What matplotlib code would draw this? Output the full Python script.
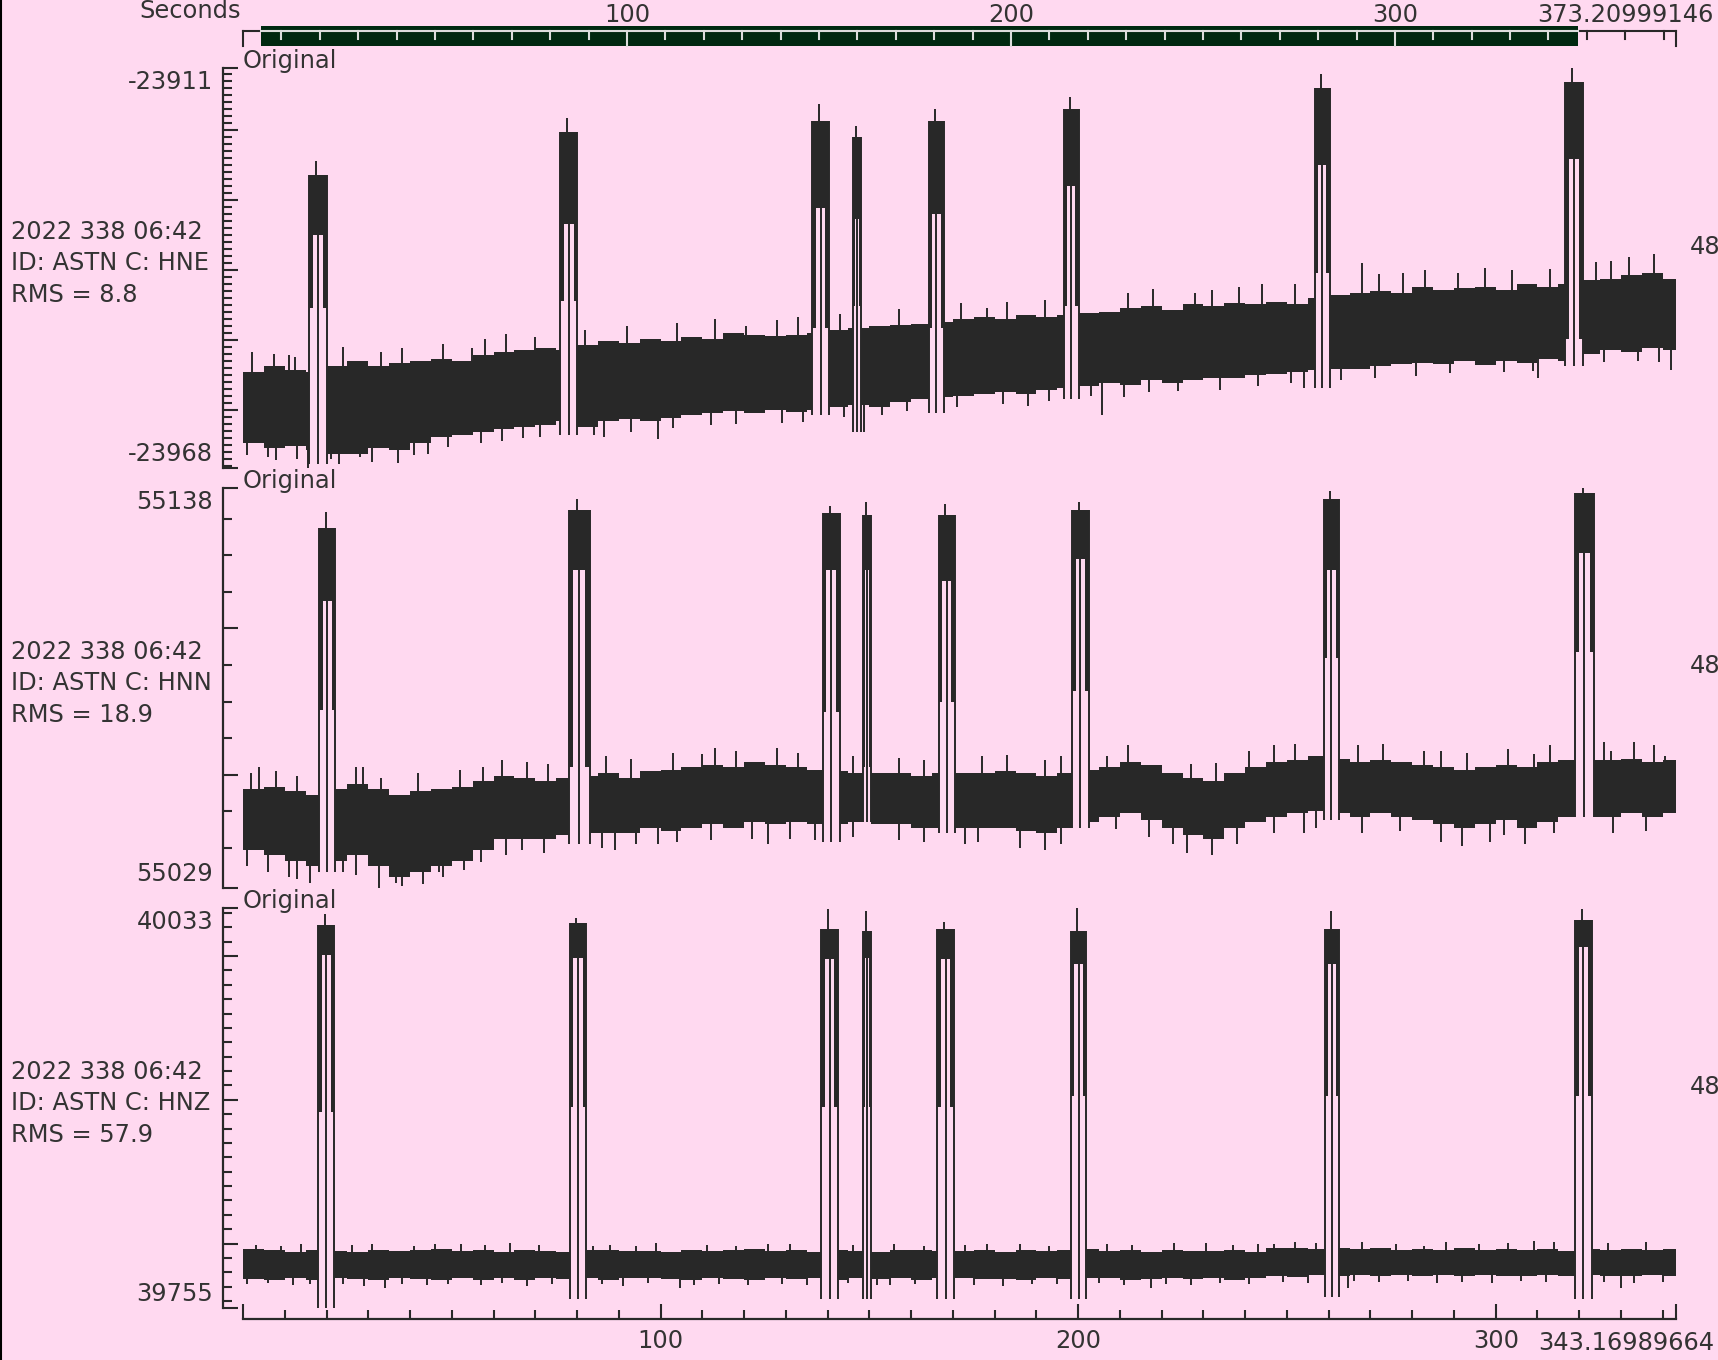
import numpy as np
import matplotlib
matplotlib.use('Agg')
import matplotlib.pyplot as plt
from matplotlib.lines import Line2D

W, H = 1718, 1360
BG = '#ffd9f0'
INK = '#282828'
TXT = '#333333'
GREEN = '#002810'
LIGHT = '#dcdcdc'
FS = 17.4

# record / window lengths (s)
t_end = 343.16989664
rec_len = 373.20999146
win_start = 4.6

# header info
date_str = '2022 338 06:42'
station = 'ASTN'
channels = ['HNE', 'HNN', 'HNZ']
rms = [8.8, 18.9, 57.9]
right_lbl = '48'

# noise band envelope, one value every 5 s (0..340 s)
env_t = np.arange(0, 345, 5)

ne_hi = [-23954.6, -23953.8, -23954.3, -23954.6, -23953.8, -23953.0, -23953.8, -23953.3, -23953.0, -23952.7,
         -23953.0, -23952.2, -23951.8, -23951.5, -23951.1, -23951.5, -23950.7, -23950.2, -23950.5, -23949.9,
         -23950.2, -23949.6, -23949.9, -23949.1, -23949.3, -23949.4, -23949.3, -23949.1, -23948.6, -23948.3,
         -23948.0, -23947.9, -23947.7, -23947.4, -23947.1, -23946.8, -23947.1, -23946.5, -23946.8, -23946.5,
         -23946.2, -23946.0, -23945.5, -23945.2, -23945.7, -23944.9, -23945.2, -23944.7, -23944.9, -23944.6,
         -23944.9, -23944.0, -23943.6, -23943.3, -23943.0, -23943.3, -23942.4, -23942.9, -23942.6, -23942.4,
         -23942.9, -23942.1, -23942.4, -23942.1, -23941.5, -23941.3, -23940.8, -23940.5, -23941.3]
ne_lo = [-23964.7, -23965.5, -23965.2, -23965.8, -23966.3, -23966.3, -23965.5, -23965.8, -23964.7, -23963.9,
         -23963.6, -23963.2, -23962.7, -23962.4, -23962.1, -23961.6, -23962.4, -23961.6, -23961.3, -23961.6,
         -23961.1, -23960.8, -23960.5, -23960.2, -23960.5, -23960.0, -23960.3, -23960.0, -23959.6, -23959.3,
         -23959.6, -23958.9, -23958.5, -23958.2, -23958.0, -23957.7, -23957.4, -23957.7, -23957.2, -23956.9,
         -23956.6, -23956.1, -23956.4, -23955.8, -23956.1, -23955.7, -23955.4, -23955.5, -23955.0, -23954.9,
         -23954.6, -23954.3, -23954.2, -23954.1, -23953.8, -23953.5, -23953.3, -23953.5, -23953.0, -23953.6,
         -23953.0, -23953.3, -23952.7, -23953.0, -23952.0, -23951.5, -23951.8, -23951.1, -23951.5]

nn_hi = [55056.0, 55056.6, 55055.4, 55054.5, 55056.0, 55057.5, 55056.0, 55054.5, 55055.4, 55056.0,
         55056.6, 55058.4, 55059.6, 55059.0, 55058.4, 55059.0, 55059.6, 55060.5, 55059.0, 55061.1,
         55061.4, 55062.0, 55062.6, 55062.0, 55063.5, 55062.6, 55062.0, 55061.4, 55061.1, 55060.5,
         55060.5, 55060.5, 55059.6, 55060.5, 55060.5, 55060.5, 55061.1, 55060.5, 55059.6, 55060.5,
         55061.4, 55062.0, 55063.5, 55062.6, 55060.5, 55059.0, 55058.4, 55060.5, 55062.0, 55063.5,
         55064.1, 55065.0, 55064.4, 55063.5, 55064.1, 55063.5, 55062.6, 55062.0, 55061.4, 55062.0,
         55062.6, 55062.0, 55063.5, 55064.1, 55064.1, 55064.1, 55064.4, 55063.5, 55064.1]
nn_lo = [55039.5, 55038.0, 55036.5, 55035.0, 55036.5, 55038.0, 55035.0, 55032.0, 55033.5, 55035.0,
         55036.5, 55039.5, 55042.5, 55042.5, 55042.5, 55043.4, 55044.0, 55044.0, 55044.0, 55045.5,
         55044.6, 55045.5, 55046.4, 55045.5, 55047.0, 55046.4, 55047.0, 55046.4, 55046.4, 55047.0,
         55046.4, 55046.4, 55045.5, 55045.5, 55045.5, 55045.5, 55045.5, 55044.6, 55044.0, 55045.5,
         55047.0, 55048.5, 55049.4, 55047.6, 55045.5, 55043.4, 55042.5, 55045.5, 55047.0, 55048.5,
         55049.4, 55050.0, 55049.4, 55048.5, 55049.4, 55048.5, 55047.6, 55046.4, 55045.5, 55046.4,
         55047.6, 55045.5, 55047.0, 55048.5, 55048.5, 55048.5, 55049.4, 55048.5, 55049.4]

nz_hi = [39796.0, 39795.2, 39794.4, 39795.6, 39795.0, 39794.2, 39795.8, 39794.6, 39795.2, 39796.2,
         39794.8, 39795.4, 39794.0, 39795.6, 39795.0, 39794.4, 39795.2, 39795.8, 39794.6, 39795.0,
         39794.2, 39795.6, 39794.8, 39795.4, 39796.0, 39794.6, 39795.2, 39794.0, 39795.6, 39795.0,
         39794.4, 39795.8, 39795.2, 39794.6, 39795.0, 39795.6, 39794.2, 39795.2, 39794.8, 39795.4,
         39796.0, 39794.6, 39795.2, 39794.4, 39795.8, 39795.0, 39794.6, 39795.4, 39794.2, 39796.6,
         39797.0, 39796.4, 39797.2, 39796.0, 39796.8, 39795.6, 39796.4, 39795.8, 39796.6, 39795.2,
         39796.0, 39795.6, 39796.2, 39795.0, 39796.4, 39795.6, 39796.0, 39795.4, 39796.2]
nz_lo = [39775.6, 39774.8, 39776.2, 39775.0, 39776.4, 39775.2, 39774.6, 39776.0, 39775.4, 39774.8,
         39776.2, 39775.0, 39775.8, 39774.6, 39776.0, 39775.4, 39776.4, 39775.0, 39775.8, 39776.2,
         39775.2, 39774.8, 39776.0, 39775.6, 39775.0, 39776.4, 39775.2, 39775.8, 39774.6, 39776.0,
         39775.4, 39776.2, 39775.0, 39775.8, 39776.4, 39775.2, 39775.6, 39774.8, 39776.0, 39775.4,
         39775.8, 39776.2, 39775.0, 39775.6, 39776.4, 39775.2, 39775.8, 39775.0, 39776.2, 39777.6,
         39777.0, 39778.2, 39777.6, 39778.0, 39777.2, 39778.4, 39777.6, 39778.0, 39777.4, 39778.2,
         39777.8, 39777.2, 39778.0, 39777.6, 39778.4, 39777.8, 39777.2, 39778.0, 39777.6]

# pulses: on/off time, dense block top/bottom, peak, column reach, lowest swing
ne_on = [15.9, 75.9, 136.2, 146.1, 164.2, 196.5, 256.7, 316.5]
ne_off = [20.0, 80.1, 140.4, 147.9, 167.9, 200.1, 260.2, 321.0]
ne_phi = [-23926.5, -23920.3, -23918.7, -23921.0, -23918.7, -23917.1, -23914.0, -23913.2]
ne_plo = [-23935.1, -23933.5, -23931.2, -23932.7, -23932.0, -23928.0, -23925.0, -23924.2]
ne_ppk = [-23924.5, -23918.4, -23916.4, -23919.5, -23917.1, -23915.3, -23912.1, -23911.2]
ne_ptl = [-23945.5, -23944.4, -23948.3, -23945.2, -23948.3, -23945.2, -23940.5, -23949.9]
ne_pfl = [-23967.7, -23963.6, -23960.8, -23963.1, -23960.5, -23958.5, -23956.9, -23953.8]

nn_on = [18.2, 78.0, 138.8, 148.5, 166.6, 198.6, 258.8, 318.9]
nn_off = [22.1, 83.0, 143.0, 150.3, 170.5, 202.5, 262.5, 323.6]
nn_phi = [55127.4, 55132.5, 55131.6, 55131.0, 55131.0, 55132.5, 55135.5, 55137.0]
nn_plo = [55107.6, 55116.0, 55116.0, 55116.0, 55113.0, 55119.0, 55116.0, 55120.5]
nn_ppk = [55131.9, 55135.5, 55133.4, 55134.6, 55134.0, 55134.6, 55137.6, 55138.4]
nn_ptl = [55077.6, 55062.0, 55077.0, 55062.0, 55080.0, 55083.0, 55092.0, 55093.5]
nn_pfl = [55033.5, 55041.0, 55041.6, 55047.0, 55044.0, 55045.5, 55047.6, 55048.5]

nz_on = [18.0, 78.2, 138.5, 148.5, 166.3, 198.3, 259.1, 318.9]
nz_off = [21.9, 82.2, 142.5, 150.3, 170.2, 201.9, 262.5, 323.1]
nz_phi = [40021.3, 40022.8, 40019.0, 40017.5, 40019.0, 40017.5, 40019.0, 40025.1]
nz_plo = [40000.6, 39998.4, 39997.6, 39998.4, 39997.6, 39994.5, 39994.5, 40006.0]
nz_ppk = [40028.9, 40026.6, 40032.7, 40031.2, 40023.6, 40033.4, 40031.2, 40033.0]
nz_ptl = [39891.4, 39895.2, 39895.2, 39895.2, 39895.2, 39902.9, 39902.9, 39902.9]
nz_pfl = [39755.2, 39761.5, 39761.5, 39761.5, 39761.5, 39761.5, 39763.0, 39761.5]

# isolated spikes sticking out of the noise band
ne_sp_t = [2.2, 5.9, 10.9, 15.5, 21.0, 27.9, 44.4, 54.9, 69.9, 71.2, 86.4, 99.4, 120.4, 148.6,
           178.1, 205.6, 227.9, 238.4, 254.1, 268.0, 277.7, 297.4, 310.2, 327.5, 337.8, 342.0,
           7.5, 12.5, 24, 33, 38, 48, 58, 63, 82, 92, 104, 113, 128, 133, 143, 157, 172, 183, 192,
           212, 218, 232, 244, 252, 272, 283, 291, 304, 313, 324, 332,
           1, 8, 13, 23, 31, 37, 41, 49, 57, 62, 67, 84, 93, 103, 112, 118, 129, 134, 144, 153,
           159, 171, 182, 188, 193, 203, 211, 217, 224, 234, 243, 251, 263, 271, 281, 289, 302,
           309, 326, 334, 339]
ne_sp_v = [-23951.8, -23966.7, -23952.2, -23968.3, -23967.0, -23966.7, -23966.3, -23951.1, -23949.6,
           -23963.9, -23963.9, -23964.2, -23948.0, -23963.1, -23945.5, -23960.8, -23943.3, -23942.4,
           -23956.9, -23939.0, -23940.5, -23939.7, -23955.4, -23938.7, -23937.7, -23954.3,
           -23952.0, -23952.4, -23951.0, -23951.8, -23951.2, -23950.6, -23949.9, -23949.2, -23948.6,
           -23948.1, -23947.6, -23947.0, -23947.2, -23946.8, -23946.3, -23945.6, -23944.8, -23944.6,
           -23944.3, -23943.3, -23942.8, -23942.9, -23942.0, -23942.1, -23940.6, -23940.0, -23940.5,
           -23940.1, -23939.9, -23938.9, -23938.2,
           -23966.5, -23967.2, -23967.0, -23967.8, -23967.4, -23967.6, -23966.5, -23965.3, -23964.8,
           -23964.4, -23964.0, -23963.6, -23963.1, -23962.6, -23962.2, -23962.0, -23961.9, -23961.7,
           -23961.0, -23960.8, -23960.2, -23959.6, -23959.2, -23959.4, -23958.7, -23958.0, -23958.2,
           -23957.5, -23957.3, -23957.1, -23956.6, -23956.2, -23955.8, -23955.5, -23955.1, -23954.8,
           -23954.6, -23954.4, -23953.2, -23953.0, -23953.2]
nn_sp_t = [3.8, 10.9, 16.1, 28.7, 32.6, 36.6, 47.0, 57.5, 66.7, 89.0, 99.5, 109.9, 125.7, 172.9,
           206.9, 222.7, 241.0, 254.1, 282.9, 298.7, 309.2, 327.5, 340.6,
           2, 8, 13, 27, 33, 42, 52, 62, 68, 73, 87, 93, 103, 113, 118, 128, 133, 146, 157, 163,
           177, 183, 192, 196, 212, 227, 233, 247, 252, 267, 273, 287, 293, 303, 313, 326, 333, 338,
           1, 6, 13, 24, 27, 38, 43, 48, 53, 57, 63, 72, 86, 94, 104, 112, 122, 131, 137, 146, 157,
           163, 176, 186, 192, 196, 209, 217, 226, 232, 238, 247, 257, 268, 277, 287, 292, 302, 307,
           314, 328, 336]
nn_sp_v = [55062.0, 55032.0, 55030.5, 55062.0, 55029.0, 55030.5, 55033.5, 55062.0, 55039.5, 55039.5,
           55041.0, 55065.6, 55041.0, 55041.0, 55065.0, 55041.0, 55066.5, 55044.0, 55066.5, 55041.6,
           55065.6, 55066.5, 55065.0,
           55060.5, 55061.0, 55059.5, 55062.0, 55059.0, 55060.4, 55061.2, 55064.0, 55063.5, 55063.0,
           55065.0, 55064.2, 55066.0, 55067.4, 55066.5, 55067.2, 55065.8, 55065.2, 55064.6, 55064.0,
           55065.0, 55065.5, 55064.0, 55065.2, 55068.0, 55063.0, 55063.2, 55068.0, 55068.5, 55068.0,
           55068.4, 55066.5, 55066.0, 55067.0, 55068.0, 55068.8, 55069.0, 55068.0,
           55035.0, 55033.5, 55031.5, 55033.5, 55032.5, 55029.5, 55030.0, 55032.0, 55034.0, 55036.0,
           55038.0, 55038.5, 55040.0, 55041.0, 55041.5, 55042.0, 55042.5, 55042.5, 55042.0, 55043.0,
           55042.0, 55041.5, 55041.5, 55040.0, 55039.5, 55041.0, 55045.0, 55043.0, 55038.5, 55038.0,
           55041.0, 55044.0, 55045.5, 55044.0, 55044.5, 55041.5, 55040.5, 55043.5, 55041.0, 55044.0,
           55044.0, 55044.5]
nz_sp_t = [33.9, 52.3, 83.8, 104.7, 125.7, 151.9, 178.1, 217.4, 230.5, 246.8, 264.6, 282.9, 309.1, 330.1,
           3, 9, 14, 26, 31, 41, 46, 58, 64, 71, 88, 94, 99, 111, 118, 131, 146, 156, 163, 173, 186,
           193, 207, 213, 223, 237, 243, 252, 257, 268, 276, 288, 296, 303, 314, 327, 336,
           1, 6, 12, 16, 24, 29, 38, 44, 49, 57, 62, 68, 74, 86, 91, 97, 108, 114, 121, 129, 135,
           145, 155, 161, 175, 182, 189, 195, 205, 211, 221, 227, 234, 241, 249, 255, 266, 272, 279,
           286, 292, 299, 306, 312, 326, 333, 340]
nz_sp_v = [39769.2, 39799.7, 39798.2, 39769.2, 39799.7, 39771.5, 39799.7, 39769.2, 39800.5, 39799.7,
           39769.2, 39798.2, 39802.0, 39769.2,
           39799.0, 39798.4, 39799.6, 39798.8, 39800.0, 39798.6, 39799.4, 39799.0, 39800.2, 39798.8,
           39799.2, 39798.4, 39800.4, 39799.0, 39798.6, 39799.8, 39798.8, 39799.4, 39798.4, 39799.2,
           39800.0, 39798.6, 39799.4, 39798.8, 39800.6, 39799.0, 39799.6, 39801.0, 39800.4, 39800.8,
           39799.8, 39801.2, 39800.0, 39800.6, 39801.4, 39800.2, 39800.8,
           39771.6, 39772.4, 39771.0, 39772.0, 39771.8, 39770.6, 39772.2, 39771.4, 39772.0, 39771.2,
           39772.6, 39770.8, 39772.0, 39771.8, 39770.8, 39772.4, 39771.4, 39772.2, 39771.0, 39772.0,
           39771.2, 39772.4, 39771.0, 39772.2, 39771.4, 39770.6, 39772.0, 39771.6, 39772.6, 39771.0,
           39772.0, 39771.2, 39772.4, 39771.6, 39773.6, 39772.8, 39773.8, 39773.0, 39774.0, 39772.6,
           39773.4, 39772.8, 39774.0, 39773.2, 39773.6, 39772.8, 39773.4]

ne_major = np.arange(-23960, -23911, 10)
ne_minor = np.arange(-23968, -23911, 1)
nn_major = [55060, 55100]
nn_minor = np.arange(55040, 55131, 10)
nz_major = [39800, 39900, 40000]
nz_minor = np.arange(39760, 40031, 10)

traces = [
    (ne_hi, ne_lo, ne_on, ne_off, ne_phi, ne_plo, ne_ppk, ne_ptl, ne_pfl, ne_sp_t, ne_sp_v, ne_major, ne_minor),
    (nn_hi, nn_lo, nn_on, nn_off, nn_phi, nn_plo, nn_ppk, nn_ptl, nn_pfl, nn_sp_t, nn_sp_v, nn_major, nn_minor),
    (nz_hi, nz_lo, nz_on, nz_off, nz_phi, nz_plo, nz_ppk, nz_ptl, nz_pfl, nz_sp_t, nz_sp_v, nz_major, nz_minor),
]


def fx(px):
    return px / W


def fy(py):
    return 1 - py / H


def draw_trace(ax, hi, lo, p_on, p_off, p_hi, p_lo, p_pk, p_tl, p_fl, sp_t, sp_v):
    hi = np.asarray(hi)
    lo = np.asarray(lo)
    # quiet stretches between pulses
    edges = [0.0]
    for a, b in zip(p_on, p_off):
        edges += [a, b]
    edges.append(t_end)
    for a, b in zip(edges[0::2], edges[1::2]):
        i0 = np.searchsorted(env_t, a, side='right') - 1
        k = np.where((env_t > a) & (env_t < b))[0]
        idx = np.concatenate([[i0], k]).astype(int)
        xs = np.concatenate([[a], env_t[k], [b]])
        yh = np.concatenate([hi[idx], [hi[idx[-1]]]])
        yl = np.concatenate([lo[idx], [lo[idx[-1]]]])
        ax.fill_between(xs, yl, yh, step='post', color=INK, lw=0)
    # pulses
    for a, b, h, l, pk, tl, fl in zip(p_on, p_off, p_hi, p_lo, p_pk, p_tl, p_fl):
        w = 0.22 * (b - a)
        ax.fill_between([a, b], l, h, color=INK, lw=0)
        ax.fill_between([a, a + w], tl, l, color=INK, lw=0)
        ax.fill_between([b - w, b], tl, l, color=INK, lw=0)
        ax.vlines([a, (a + b) / 2, b], fl, h, colors=INK, lw=1.4)
        ax.vlines([a + 0.4 * (b - a)], h, pk, colors=INK, lw=1.4)
    # spikes
    sp_t = np.asarray(sp_t, dtype=float)
    i = np.searchsorted(env_t, sp_t, side='right') - 1
    mid = (hi[i] + lo[i]) / 2
    ax.vlines(sp_t, mid, sp_v, colors=INK, lw=1.4)


fig = plt.figure(figsize=(W / 100, H / 100), dpi=100, facecolor=BG)
plt.rcParams['font.family'] = 'DejaVu Sans'

x0, x1 = 243, 1676
tops = [68, 488, 908]
ph = 400

for n, (tr, top) in enumerate(zip(traces, tops)):
    hi, lo, p_on, p_off, p_hi, p_lo, p_pk, p_tl, p_fl, sp_t, sp_v, major, minor = tr
    ax = fig.add_axes([fx(x0), fy(top + ph), (x1 - x0) / W, ph / H])
    ax.patch.set_visible(False)
    draw_trace(ax, hi, lo, p_on, p_off, p_hi, p_lo, p_pk, p_tl, p_fl, sp_t, sp_v)
    vmin = min(min(lo), min(p_fl), min(sp_v))
    vmax = max(max(hi), max(p_pk), max(sp_v))
    ax.set_xlim(0, t_end)
    ax.set_ylim(vmin, vmax)

    for s in ['top', 'right']:
        ax.spines[s].set_visible(False)
    ax.spines['left'].set_position(('outward', 14.4))
    ax.spines['left'].set_color(INK)
    ax.spines['left'].set_linewidth(1.6)
    ax.set_yticks([vmin] + list(major) + [vmax])
    ax.set_yticks(minor, minor=True)
    ax.tick_params(axis='y', which='major', direction='in', length=10.8, width=1.5,
                   color=INK, labelleft=False)
    ax.tick_params(axis='y', which='minor', direction='in', length=6.5, width=1.5, color=INK)

    if n < 2:
        ax.spines['bottom'].set_visible(False)
        ax.tick_params(axis='x', which='both', bottom=False, labelbottom=False)
    else:
        ax.spines['bottom'].set_position(('outward', 7.9))
        ax.spines['bottom'].set_color(INK)
        ax.spines['bottom'].set_linewidth(1.6)
        ax.set_xticks([0, 100, 200, 300, t_end])
        ax.set_xticklabels(['', '100', '200', '300', ''])
        ax.set_xticks(np.arange(10, 341, 10), minor=True)
        ax.tick_params(axis='x', which='major', direction='in', length=10.8, width=1.5,
                       color=INK, pad=7.5, labelsize=FS, labelcolor=TXT)
        ax.tick_params(axis='x', which='minor', direction='in', length=6.5, width=1.5, color=INK)
        fig.text(fx(1538), fy(1350), f'{t_end:.8f}', ha='left', va='baseline', fontsize=FS, color=TXT)

    # limit labels, title, header text
    fig.text(fx(213), fy(top + 14), str(int(round(vmax))), ha='right', va='center', fontsize=FS, color=TXT)
    fig.text(fx(213), fy(top + ph - 14), str(int(round(vmin))), ha='right', va='center', fontsize=FS, color=TXT)
    ax.text(0, 1, 'Original', transform=ax.transAxes, ha='left', va='baseline', fontsize=FS, color=TXT)
    info = [date_str, f'ID: {station} C: {channels[n]}', f'RMS = {rms[n]}']
    for j, s in enumerate(info):
        fig.text(fx(11), fy(top + 164 + 31.5 * j), s, ha='left', va='center', fontsize=FS, color=TXT)
    fig.text(fx(1690), fy(top + 178.5), right_lbl, ha='left', va='center', fontsize=FS, color=TXT)

# top time scale with the window bar
axt = fig.add_axes([fx(x0), fy(46), (x1 - x0) / W, 20 / H])
axt.set_xlim(0, rec_len)
axt.set_ylim(0, 1)
axt.axis('off')
win_end = win_start + t_end
axt.plot([0, rec_len], [0.75, 0.75], color=INK, lw=1.5, clip_on=False)
axt.fill_between([win_start, win_end], 0, 1, color=GREEN, lw=0)
axt.plot([win_start, win_end], [0.75, 0.75], color=LIGHT, lw=1.5)
for t in np.arange(0, 371, 10):
    inside = win_start < t < win_end
    y_end = 0.0 if t % 100 == 0 else 0.35
    axt.plot([t, t], [0.75, y_end], color=LIGHT if inside else INK, lw=1.5, clip_on=False)
axt.plot([rec_len, rec_len], [0.75, 0.0], color=INK, lw=1.5, clip_on=False)
for t in [100, 200, 300]:
    axt.text(t, 1.225, str(t), ha='center', va='baseline', fontsize=FS, color=TXT)
fig.text(fx(241), fy(18.5), 'Seconds', ha='right', va='baseline', fontsize=FS, color=TXT)
fig.text(fx(1537), fy(21.5), f'{rec_len:.8f}', ha='left', va='baseline', fontsize=FS, color=TXT)

fig.add_artist(Line2D([0.8 / W, 0.8 / W], [0, 1], transform=fig.transFigure, color='black', lw=1.5))

fig.savefig('out.png', dpi=100, facecolor=BG)
